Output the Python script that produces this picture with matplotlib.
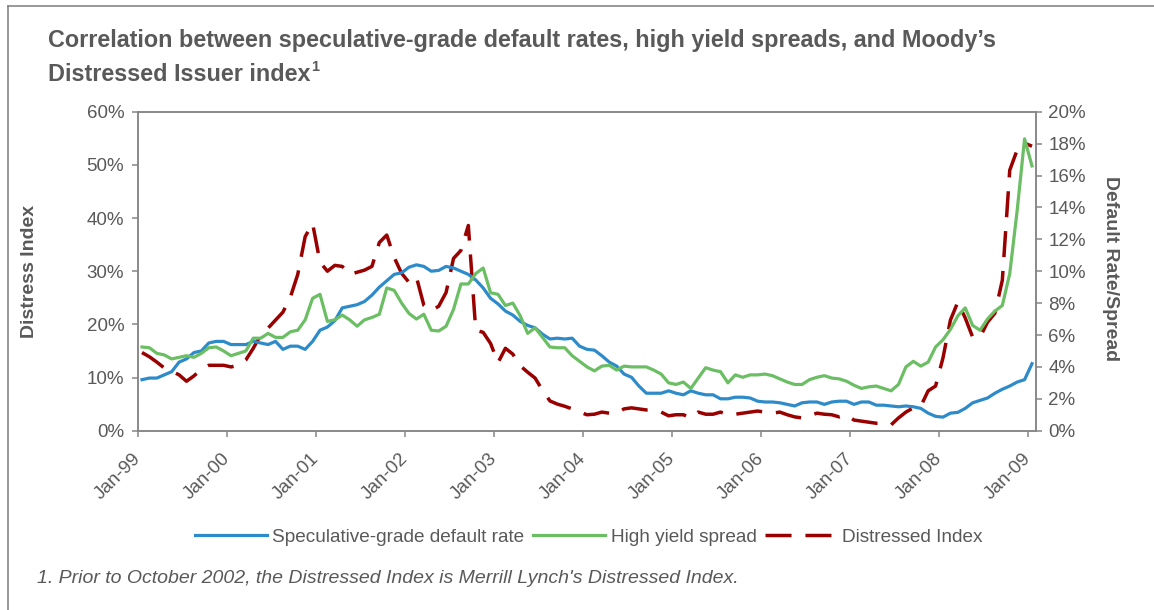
import numpy as np
import matplotlib
matplotlib.use("Agg")
import matplotlib.pyplot as plt
from matplotlib.lines import Line2D

plt.rcParams['font.family'] = ['Liberation Sans', 'DejaVu Sans']

# monthly data, Jan-99 .. Jan-09
default_rate = [3.2, 3.3, 3.3, 3.5, 3.7, 4.3, 4.5, 4.9, 5.0, 5.5, 5.6, 5.6,
                5.4, 5.4, 5.4, 5.6, 5.5, 5.4, 5.6, 5.1, 5.3, 5.3, 5.1, 5.6,
                6.3, 6.5, 6.9, 7.7, 7.8, 7.9, 8.1, 8.5, 9.0, 9.4, 9.8, 9.9,
                10.25, 10.4, 10.3, 10.0, 10.05, 10.3, 10.2, 10.0, 9.8, 9.45, 8.95, 8.3,
                7.95, 7.5, 7.25, 6.85, 6.6, 6.45, 6.05, 5.75, 5.8, 5.75, 5.8, 5.3,
                5.1, 5.05, 4.7, 4.3, 4.05, 3.55, 3.35, 2.8, 2.35, 2.35, 2.35, 2.5,
                2.35, 2.25, 2.5, 2.35, 2.25, 2.25, 2.0, 2.0, 2.1, 2.1, 2.05, 1.85,
                1.8, 1.8, 1.75, 1.65, 1.55, 1.75, 1.8, 1.8, 1.65, 1.8, 1.85, 1.85,
                1.65, 1.8, 1.8, 1.6, 1.6, 1.55, 1.5, 1.55, 1.5, 1.4, 1.1, 0.9,
                0.85, 1.1, 1.15, 1.4, 1.75, 1.9, 2.05, 2.35, 2.6, 2.8, 3.05, 3.2,
                4.2]

hy_spread = [5.25, 5.2, 4.85, 4.75, 4.5, 4.6, 4.7, 4.6, 4.85, 5.2, 5.25, 5.0,
             4.7, 4.85, 5.0, 5.8, 5.8, 6.1, 5.85, 5.85, 6.2, 6.3, 6.95, 8.3,
             8.55, 6.85, 6.95, 7.25, 6.95, 6.55, 6.95, 7.1, 7.3, 8.95, 8.8, 8.0,
             7.35, 7.0, 7.3, 6.3, 6.25, 6.55, 7.6, 9.2, 9.2, 9.85, 10.2, 8.65,
             8.55, 7.85, 8.0, 7.2, 6.1, 6.45, 5.85, 5.25, 5.2, 5.2, 4.7, 4.35,
             4.0, 3.75, 4.05, 4.1, 3.8, 4.05, 4.0, 4.0, 4.0, 3.8, 3.55, 3.0,
             2.9, 3.05, 2.65, 3.3, 3.95, 3.8, 3.7, 3.0, 3.5, 3.35, 3.5, 3.5,
             3.55, 3.45, 3.25, 3.05, 2.9, 2.9, 3.2, 3.35, 3.45, 3.3, 3.25, 3.1,
             2.85, 2.65, 2.75, 2.8, 2.65, 2.5, 2.9, 4.0, 4.35, 4.05, 4.3, 5.25,
             5.7, 6.35, 7.2, 7.7, 6.6, 6.3, 7.0, 7.5, 7.85, 9.85, 13.8, 18.3,
             16.6]

distress_index = [14.7, 13.9, 12.9, 11.8, 11.2, 10.5, 9.3, 10.3, 11.6, 12.3, 12.3, 12.3,
                  12.0, 12.3, 13.3, 15.5, 18.0, 19.3, 20.8, 22.3, 25.1, 29.4, 36.5, 39.0,
                  31.7, 30.0, 31.1, 30.9, 29.4, 29.8, 30.2, 30.9, 35.4, 36.8, 32.6, 29.6,
                  27.9, 28.9, 23.6, 22.6, 23.4, 26.0, 32.4, 33.9, 38.6, 18.9, 18.5, 16.4,
                  12.8, 15.5, 14.4, 12.2, 11.0, 9.9, 7.6, 5.6, 5.0, 4.6, 4.1, 3.5,
                  3.0, 3.1, 3.5, 3.3, 3.3, 4.1, 4.3, 4.1, 3.9, 3.9, 3.5, 2.8,
                  3.0, 3.0, 2.4, 3.5, 3.1, 3.1, 3.5, 3.0, 3.1, 3.3, 3.5, 3.7,
                  3.5, 3.3, 3.5, 3.0, 2.6, 2.4, 2.8, 3.3, 3.1, 3.0, 2.6, 3.0,
                  2.0, 1.8, 1.6, 1.4, 1.4, 1.1, 2.4, 3.5, 4.3, 4.6, 7.5, 8.4,
                  13.7, 20.8, 24.2, 21.2, 17.6, 17.6, 20.4, 22.1, 28.3, 49.0, 52.8, 54.1,
                  53.5]

year_labels = ['Jan-99', 'Jan-00', 'Jan-01', 'Jan-02', 'Jan-03', 'Jan-04',
               'Jan-05', 'Jan-06', 'Jan-07', 'Jan-08', 'Jan-09']

gray = '#595959'
spine_gray = '#868686'
blue = '#2E8BC9'
green = '#6BBE63'
red = '#990000'

n = len(default_rate)
x = np.arange(n) + 0.5

fig = plt.figure(figsize=(11.54, 6.10), dpi=100)
W, H = 1154, 610
ax = fig.add_axes([138.3 / W, 1 - 430.7 / H, (1035.7 - 138.3) / W, (430.7 - 111.7) / H])
ax2 = ax.twinx()

ax.plot(x, distress_index, color=red, lw=2.5, dashes=(7.5, 4.0), dash_capstyle='butt',
        label='Distressed Index', zorder=3)
ax2.plot(x, default_rate, color=blue, lw=2.3, label='Speculative-grade default rate')
ax2.plot(x, hy_spread, color=green, lw=2.3, label='High yield spread')

ax.set_xlim(0, n)
ax.set_ylim(0, 60)
ax2.set_ylim(0, 20)
ax.set_yticks(np.arange(0, 61, 10))
ax.set_yticklabels([f'{v}%' for v in range(0, 61, 10)])
ax2.set_yticks(np.arange(0, 21, 2))
ax2.set_yticklabels([f'{v}%' for v in range(0, 21, 2)])
ax.set_xticks(np.arange(0, n, 12))
ax.set_xticklabels(year_labels, rotation=45, ha='right', va='center', rotation_mode='anchor')

for a in (ax, ax2):
    for s in a.spines.values():
        s.set_color(spine_gray)
        s.set_linewidth(1.1)
    a.tick_params(colors=spine_gray, labelcolor=gray, labelsize=13.5, length=4.2, width=1.1)
ax.tick_params(axis='x', pad=14)
ax.tick_params(axis='y', pad=6)
ax2.tick_params(axis='y', pad=5)

ax.set_ylabel('Distress Index', fontsize=14, fontweight='bold', color=gray, va='center')
ax.yaxis.set_label_coords((30 - 138.3) / 897.4, 0.5)
ax2.set_ylabel('Default Rate/Spread', fontsize=14, fontweight='bold', color=gray,
               rotation=270, va='center')
ax2.yaxis.set_label_coords((1110 - 138.3) / 897.4, (430.7 - 269) / 319)

# legend
h1, l1 = ax2.get_legend_handles_labels()
h0, l0 = ax.get_legend_handles_labels()
fig.legend(h1 + h0, l1 + l0, loc='center', bbox_to_anchor=(589 / W, 1 - 537 / H),
           ncol=3, frameon=False, fontsize=13.7, labelcolor=gray,
           handlelength=3.8, handletextpad=0.27, columnspacing=0.45)

# title
t = fig.text(48 / W, 1 - 47 / H,
             'Correlation between speculative-grade default rates, high yield spreads, and Moody\u2019s',
             fontsize=16.8, fontweight='bold', color=gray, va='baseline')
t2 = fig.text(48 / W, 1 - 81 / H, 'Distressed Issuer index',
              fontsize=16.8, fontweight='bold', color=gray, va='baseline')
fig.canvas.draw()
bb = t2.get_window_extent()
fig.text((bb.x1 + 1) / W, 1 - 71 / H, '1', fontsize=10.5, fontweight='bold', color=gray,
         va='baseline')

fig.text(37 / W, 1 - 583 / H,
         "1. Prior to October 2002, the Distressed Index is Merrill Lynch's Distressed Index.",
         fontsize=14, style='italic', color=gray, va='baseline')

# outer frame
fig.add_artist(Line2D([8 / W, 8 / W], [0, 1 - 6 / H], transform=fig.transFigure,
                      color=spine_gray, lw=1.2))
fig.add_artist(Line2D([8 / W, 1], [1 - 6 / H, 1 - 6 / H], transform=fig.transFigure,
                      color=spine_gray, lw=1.2))

fig.savefig('out.png', dpi=100)
